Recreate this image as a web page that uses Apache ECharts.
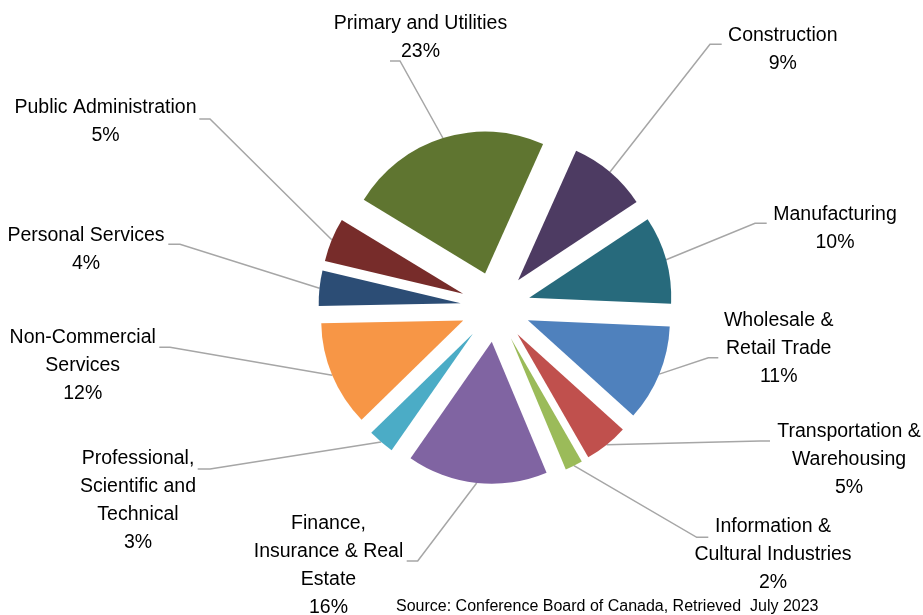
<!DOCTYPE html>
<html>
<head>
<meta charset="utf-8">
<script src="https://cdn.jsdelivr.net/npm/echarts@6/dist/echarts.min.js"></script>
<style>
  html, body { margin: 0; padding: 0; background: #ffffff; }
  #chart { width: 923px; height: 615px; }
</style>
</head>
<body>
<div id="chart"></div>
<script>
// Share of output by industry (per cent), clockwise from the first slice
const industries = [
  'Wholesale &\nRetail Trade',
  'Transportation &\nWarehousing',
  'Information &\nCultural Industries',
  'Finance,\nInsurance & Real\nEstate',
  'Professional,\nScientific and\nTechnical',
  'Non-Commercial\nServices',
  'Personal Services',
  'Public Administration',
  'Primary and Utilities',
  'Construction',
  'Manufacturing'
];
const shares = [11, 5, 2, 16, 3, 12, 4, 5, 23, 9, 10];

const sliceColors = [
  '#4f81bd', '#c0504d', '#9bbb59', '#8064a2', '#4bacc6', '#f79646',
  '#2c4d75', '#772c2a', '#5f7530', '#4d3b62', '#276a7c'
];

// Label placement: [text centre x, text centre y, leader end x, leader end y, elbow offset]
const labelSpots = [
  [778.7, 348.5, 718.3, 357.7, -10],
  [849.0, 459.5, 770.0, 441.0, -10],
  [773.0, 554.5, 708.3, 537.3, -11.6],
  [328.5, 565.5, 406.7, 561.0, 11],
  [138.0, 501.0, 197.7, 469.0, 12.3],
  [82.7, 365.5, 159.3, 347.3, 10.7],
  [86.0, 249.5, 168.3, 244.3, 11.7],
  [105.5, 121.5, 199.3, 119.0, 10.7],
  [420.5, 37.5, 390.0, 61.0, 10],
  [782.8, 50.0, 721.7, 44.3, -11.7],
  [835.0, 228.5, 766.7, 223.3, -11.7]
];

const PIE_CX = 495.5, PIE_CY = 307, PIE_R = 142, EXPLODE = 35;
const FIRST_SLICE_DEG = 92.5; // clockwise from 12 o'clock
const FONT = "'Liberation Sans', Arial, Helvetica, sans-serif";

const total = shares.reduce((a, b) => a + b, 0);

const chart = echarts.init(document.getElementById('chart'), null, { renderer: 'canvas' });

// One pie per slice: every pie holds the full data set, only its own slice is painted,
// and each pie centre is pushed out along that slice's mid-angle to explode it.
let cumulative = 0;
const series = shares.map((v, i) => {
  const midDeg = FIRST_SLICE_DEG + (cumulative + v / 2) / total * 360;
  cumulative += v;
  const rad = midDeg * Math.PI / 180;
  const cx = PIE_CX + EXPLODE * Math.sin(rad);
  const cy = PIE_CY - EXPLODE * Math.cos(rad);
  return {
    type: 'pie',
    center: [cx, cy],
    radius: PIE_R,
    startAngle: 90 - FIRST_SLICE_DEG,
    clockwise: true,
    avoidLabelOverlap: false,
    silent: true,
    animation: false,
    padAngle: 0,
    emphasis: { disabled: true },
    itemStyle: { borderWidth: 0 },
    label: {
      position: 'outside',
      color: '#000000',
      fontFamily: FONT,
      fontSize: 19.5,
      lineHeight: 28,
      align: 'center',
      overflow: 'none',
      formatter: p => p.name + '\n' + p.value + '%'
    },
    labelLine: {
      lineStyle: { color: '#a6a6a6', width: 1.5 }
    },
    labelLayout: params => {
      const s = labelSpots[params.dataIndex];
      const pts = params.labelLinePoints;
      const out = { x: s[0], y: s[1], align: 'center', verticalAlign: 'middle' };
      if (pts && pts.length) {
        out.labelLinePoints = [pts[0], [s[2] + s[4], s[3]], [s[2], s[3]]];
      }
      return out;
    },
    data: shares.map((val, j) => ({
      name: industries[j],
      value: val,
      itemStyle: { color: j === i ? sliceColors[j] : 'rgba(0,0,0,0)', borderWidth: 0 },
      label: { show: j === i },
      labelLine: { show: j === i }
    }))
  };
});

chart.setOption({
  backgroundColor: '#ffffff',
  animation: false,
  series: series,
  graphic: [{
    type: 'text',
    left: 396,
    top: 599,
    silent: true,
    style: {
      text: 'Source: Conference Board of Canada, Retrieved  July 2023',
      fill: '#000000',
      fontFamily: FONT,
      fontSize: 16
    }
  }]
});
</script>
</body>
</html>
